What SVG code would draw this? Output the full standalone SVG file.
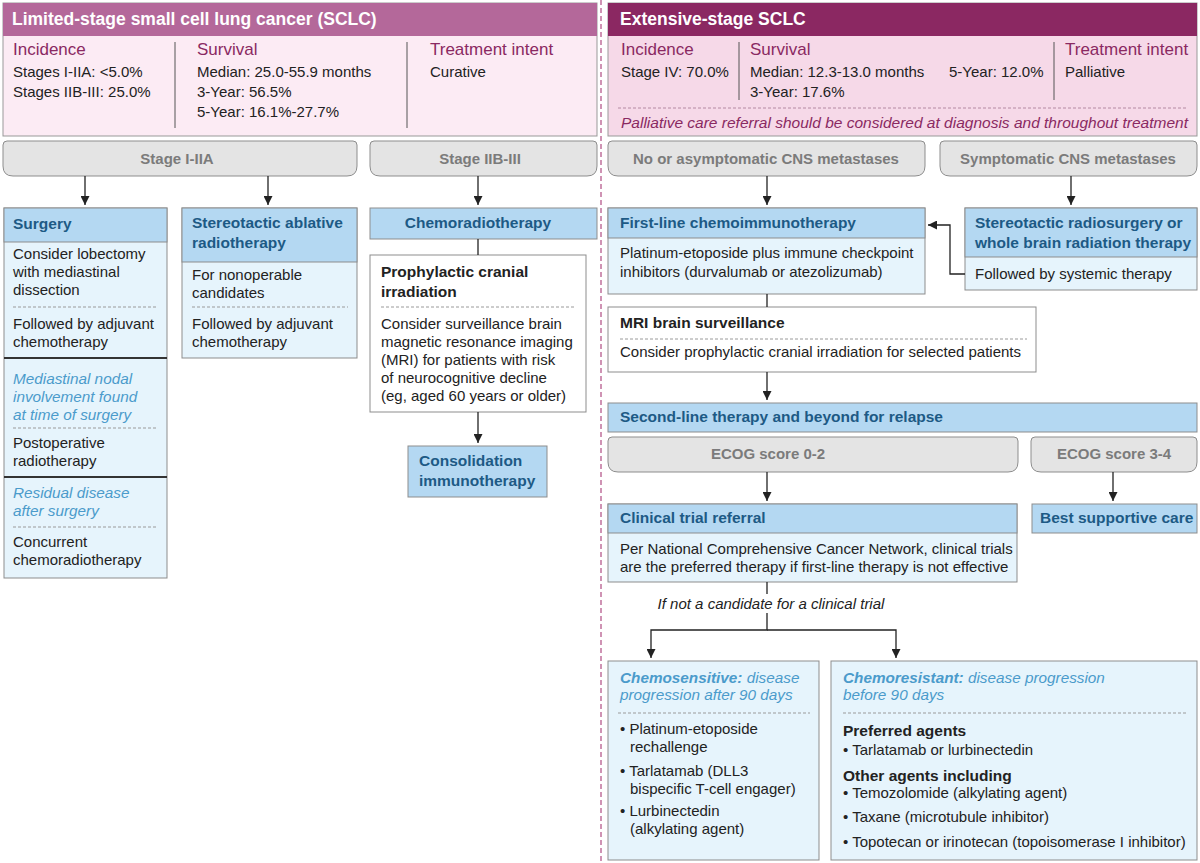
<svg xmlns="http://www.w3.org/2000/svg" width="1200" height="863" viewBox="0 0 1200 863">
<defs>
<marker id="ah" viewBox="0 0 10 10" refX="10" refY="5" markerWidth="9" markerHeight="9" markerUnits="userSpaceOnUse" orient="auto"><path d="M0,0 L10,5 L0,10 Z" fill="#222"/></marker>
<style>
text{font-family:"Liberation Sans",Arial,sans-serif;}
.ttl{font-size:17.5px;font-weight:bold;fill:#fff;}
.ph{font-size:17px;fill:#8a2962;}
.t{font-size:15px;fill:#222;}
.bh{font-size:15.5px;font-weight:bold;fill:#1d5a85;}
.gt{font-size:15px;font-weight:bold;fill:#7b7b7b;}
.it{font-size:15.3px;font-style:italic;fill:#4b9bcb;}
.bi{font-weight:bold;}
.wh{font-size:15.5px;font-weight:bold;fill:#222;}
.body{fill:#e6f4fc;stroke:#8d8d8d;stroke-width:1;}
.hd{fill:#b4d8f2;stroke:#8d8d8d;stroke-width:1;}
.white{fill:#fff;stroke:#8d8d8d;stroke-width:1;}
.gray{fill:#e4e4e4;stroke:#8d8d8d;stroke-width:1;}
.dash{stroke:#9a9a9a;stroke-width:1;stroke-dasharray:3 2;fill:none;}
.vl{stroke:#555;stroke-width:1;}
.conn{stroke:#222;stroke-width:1.3;fill:none;}
.arr{marker-end:url(#ah);}
.thick{stroke:#333;stroke-width:2;}
</style>
</defs>
<rect width="1200" height="863" fill="#fff"/>
<line x1="601" y1="0" x2="601" y2="863" stroke="#c0709c" stroke-width="1.5" stroke-dasharray="5 3"/>

<g id="limited-header">
<rect x="3" y="3" width="594" height="133" fill="#fcebf4" stroke="#999"/>
<rect x="3" y="3" width="594" height="33" fill="#b4689a"/>
<text class="ttl" x="12" y="25">Limited-stage small cell lung cancer (SCLC)</text>
<text class="ph" x="13" y="55">Incidence</text>
<text class="t" x="13" y="77">Stages I-IIA: &lt;5.0%</text>
<text class="t" x="13" y="97">Stages IIB-III: 25.0%</text>
<line class="vl" x1="175" y1="42" x2="175" y2="128"/>
<text class="ph" x="197" y="55">Survival</text>
<text class="t" x="197" y="77">Median: 25.0-55.9 months</text>
<text class="t" x="197" y="97">3-Year: 56.5%</text>
<text class="t" x="197" y="117">5-Year: 16.1%-27.7%</text>
<line class="vl" x1="407" y1="42" x2="407" y2="128"/>
<text class="ph" x="430" y="55">Treatment intent</text>
<text class="t" x="430" y="77">Curative</text>
</g>

<g id="extensive-header">
<rect x="608" y="3" width="589" height="133" fill="#f6d9e8" stroke="#999"/>
<rect x="608" y="3" width="589" height="33" fill="#8b2862"/>
<text class="ttl" x="620" y="25">Extensive-stage SCLC</text>
<text class="ph" x="621" y="55">Incidence</text>
<text class="t" x="621" y="77">Stage IV: 70.0%</text>
<line class="vl" x1="739" y1="42" x2="739" y2="100"/>
<text class="ph" x="750" y="55">Survival</text>
<text class="t" x="750" y="77">Median: 12.3-13.0 months</text>
<text class="t" x="750" y="97">3-Year: 17.6%</text>
<text class="t" x="949" y="77">5-Year: 12.0%</text>
<line class="vl" x1="1054" y1="42" x2="1054" y2="100"/>
<text class="ph" x="1065" y="55">Treatment intent</text>
<text class="t" x="1065" y="77">Palliative</text>
<line x1="618" y1="108" x2="1188" y2="108" stroke="#b48aa2" stroke-dasharray="3 2"/>
<text x="621" y="128" font-size="15.5" font-style="italic" fill="#8a2962">Palliative care referral should be considered at diagnosis and throughout treatment</text>
</g>

<g id="stage-i-iia">
<path class="gray" d="M3,145 Q3,141 7,141 H353 Q357,141 357,145 V166 Q357,176 347,176 H13 Q3,176 3,166 Z"/>
<text class="gt" x="177" y="164" text-anchor="middle">Stage I-IIA</text>
</g>
<g id="stage-iib-iii">
<path class="gray" d="M370,145 Q370,141 374,141 H593 Q597,141 597,145 V166 Q597,176 587,176 H380 Q370,176 370,166 Z"/>
<text class="gt" x="480" y="164" text-anchor="middle">Stage IIB-III</text>
</g>

<g id="surgery">
<rect class="body" x="4" y="208" width="163" height="370"/>
<rect class="hd" x="4" y="208" width="163" height="34"/>
<text class="bh" x="13" y="229">Surgery</text>
<text class="t" x="13" y="259">Consider lobectomy</text>
<text class="t" x="13" y="277">with mediastinal</text>
<text class="t" x="13" y="295">dissection</text>
<line class="dash" x1="13" y1="307" x2="158" y2="307"/>
<text class="t" x="13" y="329">Followed by adjuvant</text>
<text class="t" x="13" y="347">chemotherapy</text>
<line class="thick" x1="4" y1="358" x2="167" y2="358"/>
<text class="it" x="13" y="384">Mediastinal nodal</text>
<text class="it" x="13" y="402">involvement found</text>
<text class="it" x="13" y="420">at time of surgery</text>
<line class="dash" x1="13" y1="428" x2="158" y2="428"/>
<text class="t" x="13" y="448">Postoperative</text>
<text class="t" x="13" y="466">radiotherapy</text>
<line class="thick" x1="4" y1="477" x2="167" y2="477"/>
<text class="it" x="13" y="498">Residual disease</text>
<text class="it" x="13" y="516">after surgery</text>
<line class="dash" x1="13" y1="527" x2="158" y2="527"/>
<text class="t" x="13" y="547">Concurrent</text>
<text class="t" x="13" y="565">chemoradiotherapy</text>
</g>

<g id="sabr">
<rect class="body" x="182" y="208" width="175" height="150"/>
<rect class="hd" x="182" y="208" width="175" height="54"/>
<text class="bh" x="192" y="228">Stereotactic ablative</text>
<text class="bh" x="192" y="248">radiotherapy</text>
<text class="t" x="192" y="280">For nonoperable</text>
<text class="t" x="192" y="298">candidates</text>
<line class="dash" x1="192" y1="307" x2="348" y2="307"/>
<text class="t" x="192" y="329">Followed by adjuvant</text>
<text class="t" x="192" y="347">chemotherapy</text>
</g>

<g id="chemoradiotherapy">
<rect class="hd" x="370" y="208" width="227" height="31"/>
<text class="bh" x="478" y="228" text-anchor="middle">Chemoradiotherapy</text>
</g>

<g id="pci">
<rect class="white" x="370" y="255" width="216" height="157"/>
<text class="wh" x="381" y="277">Prophylactic cranial</text>
<text class="wh" x="381" y="297">irradiation</text>
<line class="dash" x1="381" y1="307" x2="576" y2="307"/>
<text class="t" x="381" y="329">Consider surveillance brain</text>
<text class="t" x="381" y="347">magnetic resonance imaging</text>
<text class="t" x="381" y="365">(MRI) for patients with risk</text>
<text class="t" x="381" y="383">of neurocognitive decline</text>
<text class="t" x="381" y="401">(eg, aged 60 years or older)</text>
</g>

<g id="consolidation">
<rect class="hd" x="408" y="446" width="139" height="51"/>
<text class="bh" x="419" y="466">Consolidation</text>
<text class="bh" x="419" y="486">immunotherapy</text>
</g>

<g id="no-cns">
<path class="gray" d="M608,145 Q608,141 612,141 H921 Q925,141 925,145 V166 Q925,176 915,176 H618 Q608,176 608,166 Z"/>
<text class="gt" x="766" y="164" text-anchor="middle">No or asymptomatic CNS metastases</text>
</g>
<g id="sym-cns">
<path class="gray" d="M940,145 Q940,141 944,141 H1193 Q1197,141 1197,145 V166 Q1197,176 1187,176 H950 Q940,176 940,166 Z"/>
<text class="gt" x="1068" y="164" text-anchor="middle">Symptomatic CNS metastases</text>
</g>

<g id="first-line">
<rect class="body" x="608" y="208" width="317" height="86"/>
<rect class="hd" x="608" y="208" width="317" height="30"/>
<text class="bh" x="620" y="228">First-line chemoimmunotherapy</text>
<text class="t" x="620" y="258">Platinum-etoposide plus immune checkpoint</text>
<text class="t" x="620" y="277">inhibitors (durvalumab or atezolizumab)</text>
</g>

<g id="srs">
<rect class="body" x="965" y="208" width="232" height="82"/>
<rect class="hd" x="965" y="208" width="232" height="49"/>
<text class="bh" x="975" y="228">Stereotactic radiosurgery or</text>
<text class="bh" x="975" y="248">whole brain radiation therapy</text>
<text class="t" x="975" y="279">Followed by systemic therapy</text>
</g>

<g id="mri">
<rect class="white" x="608" y="307" width="428" height="65"/>
<text class="wh" x="620" y="328">MRI brain surveillance</text>
<line class="dash" x1="620" y1="339" x2="1027" y2="339"/>
<text class="t" x="620" y="357">Consider prophylactic cranial irradiation for selected patients</text>
</g>

<g id="second-line">
<rect class="hd" x="608" y="403" width="589" height="29"/>
<text class="bh" x="620" y="422">Second-line therapy and beyond for relapse</text>
</g>

<g id="ecog-02">
<path class="gray" d="M608,441 Q608,437 612,437 H1014 Q1018,437 1018,441 V462 Q1018,472 1008,472 H618 Q608,472 608,462 Z"/>
<text class="gt" x="768" y="459" text-anchor="middle">ECOG score 0-2</text>
</g>
<g id="ecog-34">
<path class="gray" d="M1031,441 Q1031,437 1035,437 H1193 Q1197,437 1197,441 V462 Q1197,472 1187,472 H1041 Q1031,472 1031,462 Z"/>
<text class="gt" x="1114" y="459" text-anchor="middle">ECOG score 3-4</text>
</g>

<g id="clinical-trial">
<rect class="body" x="608" y="504" width="409" height="78"/>
<rect class="hd" x="608" y="504" width="409" height="29"/>
<text class="bh" x="620" y="523">Clinical trial referral</text>
<text class="t" x="620" y="554">Per National Comprehensive Cancer Network, clinical trials</text>
<text class="t" x="620" y="572">are the preferred therapy if first-line therapy is not effective</text>
</g>

<g id="best-supportive">
<rect class="hd" x="1032" y="504" width="165" height="29"/>
<text class="bh" x="1040" y="523">Best supportive care</text>
</g>

<g id="chemosensitive">
<rect class="body" x="608" y="661" width="211" height="199"/>
<text class="it" x="620" y="683"><tspan class="bi">Chemosensitive:</tspan> disease</text>
<text class="it" x="620" y="700">progression after 90 days</text>
<line class="dash" x1="618" y1="713" x2="810" y2="713"/>
<text class="t" x="620" y="734">• Platinum-etoposide</text>
<text class="t" x="630" y="752">rechallenge</text>
<text class="t" x="620" y="776">• Tarlatamab (DLL3</text>
<text class="t" x="630" y="794">bispecific T-cell engager)</text>
<text class="t" x="620" y="816">• Lurbinectedin</text>
<text class="t" x="630" y="834">(alkylating agent)</text>
</g>

<g id="chemoresistant">
<rect class="body" x="831" y="661" width="366" height="199"/>
<text class="it" x="843" y="683"><tspan class="bi">Chemoresistant:</tspan> disease progression</text>
<text class="it" x="843" y="700">before 90 days</text>
<line class="dash" x1="843" y1="713" x2="1188" y2="713"/>
<text class="wh" x="843" y="736">Preferred agents</text>
<text class="t" x="843" y="755">• Tarlatamab or lurbinectedin</text>
<text class="wh" x="843" y="781">Other agents including</text>
<text class="t" x="843" y="798">• Temozolomide (alkylating agent)</text>
<text class="t" x="843" y="822">• Taxane (microtubule inhibitor)</text>
<text class="t" x="843" y="847">• Topotecan or irinotecan (topoisomerase I inhibitor)</text>
</g>

<g id="connectors">
<line class="conn arr" x1="85" y1="176" x2="85" y2="205"/>
<line class="conn arr" x1="268" y1="176" x2="268" y2="205"/>
<line class="conn arr" x1="478" y1="176" x2="478" y2="205"/>
<line class="conn" x1="478" y1="239" x2="478" y2="255"/>
<line class="conn arr" x1="478" y1="412" x2="478" y2="443"/>
<line class="conn arr" x1="767" y1="176" x2="767" y2="205"/>
<line class="conn arr" x1="1071" y1="176" x2="1071" y2="205"/>
<path class="conn arr" d="M965,274 H950 V225 H928"/>
<line class="conn" x1="767" y1="294" x2="767" y2="307"/>
<line class="conn arr" x1="767" y1="372" x2="767" y2="400"/>
<line class="conn arr" x1="767" y1="472" x2="767" y2="501"/>
<line class="conn arr" x1="1113" y1="472" x2="1113" y2="501"/>
<line class="conn" x1="767" y1="582" x2="767" y2="594"/>
<text x="771" y="609" font-size="15" font-style="italic" fill="#222" text-anchor="middle">If not a candidate for a clinical trial</text>
<path class="conn arr" d="M767,613 V630 H651 V658"/>
<path class="conn arr" d="M767,630 H896 V658"/>
</g>
</svg>
